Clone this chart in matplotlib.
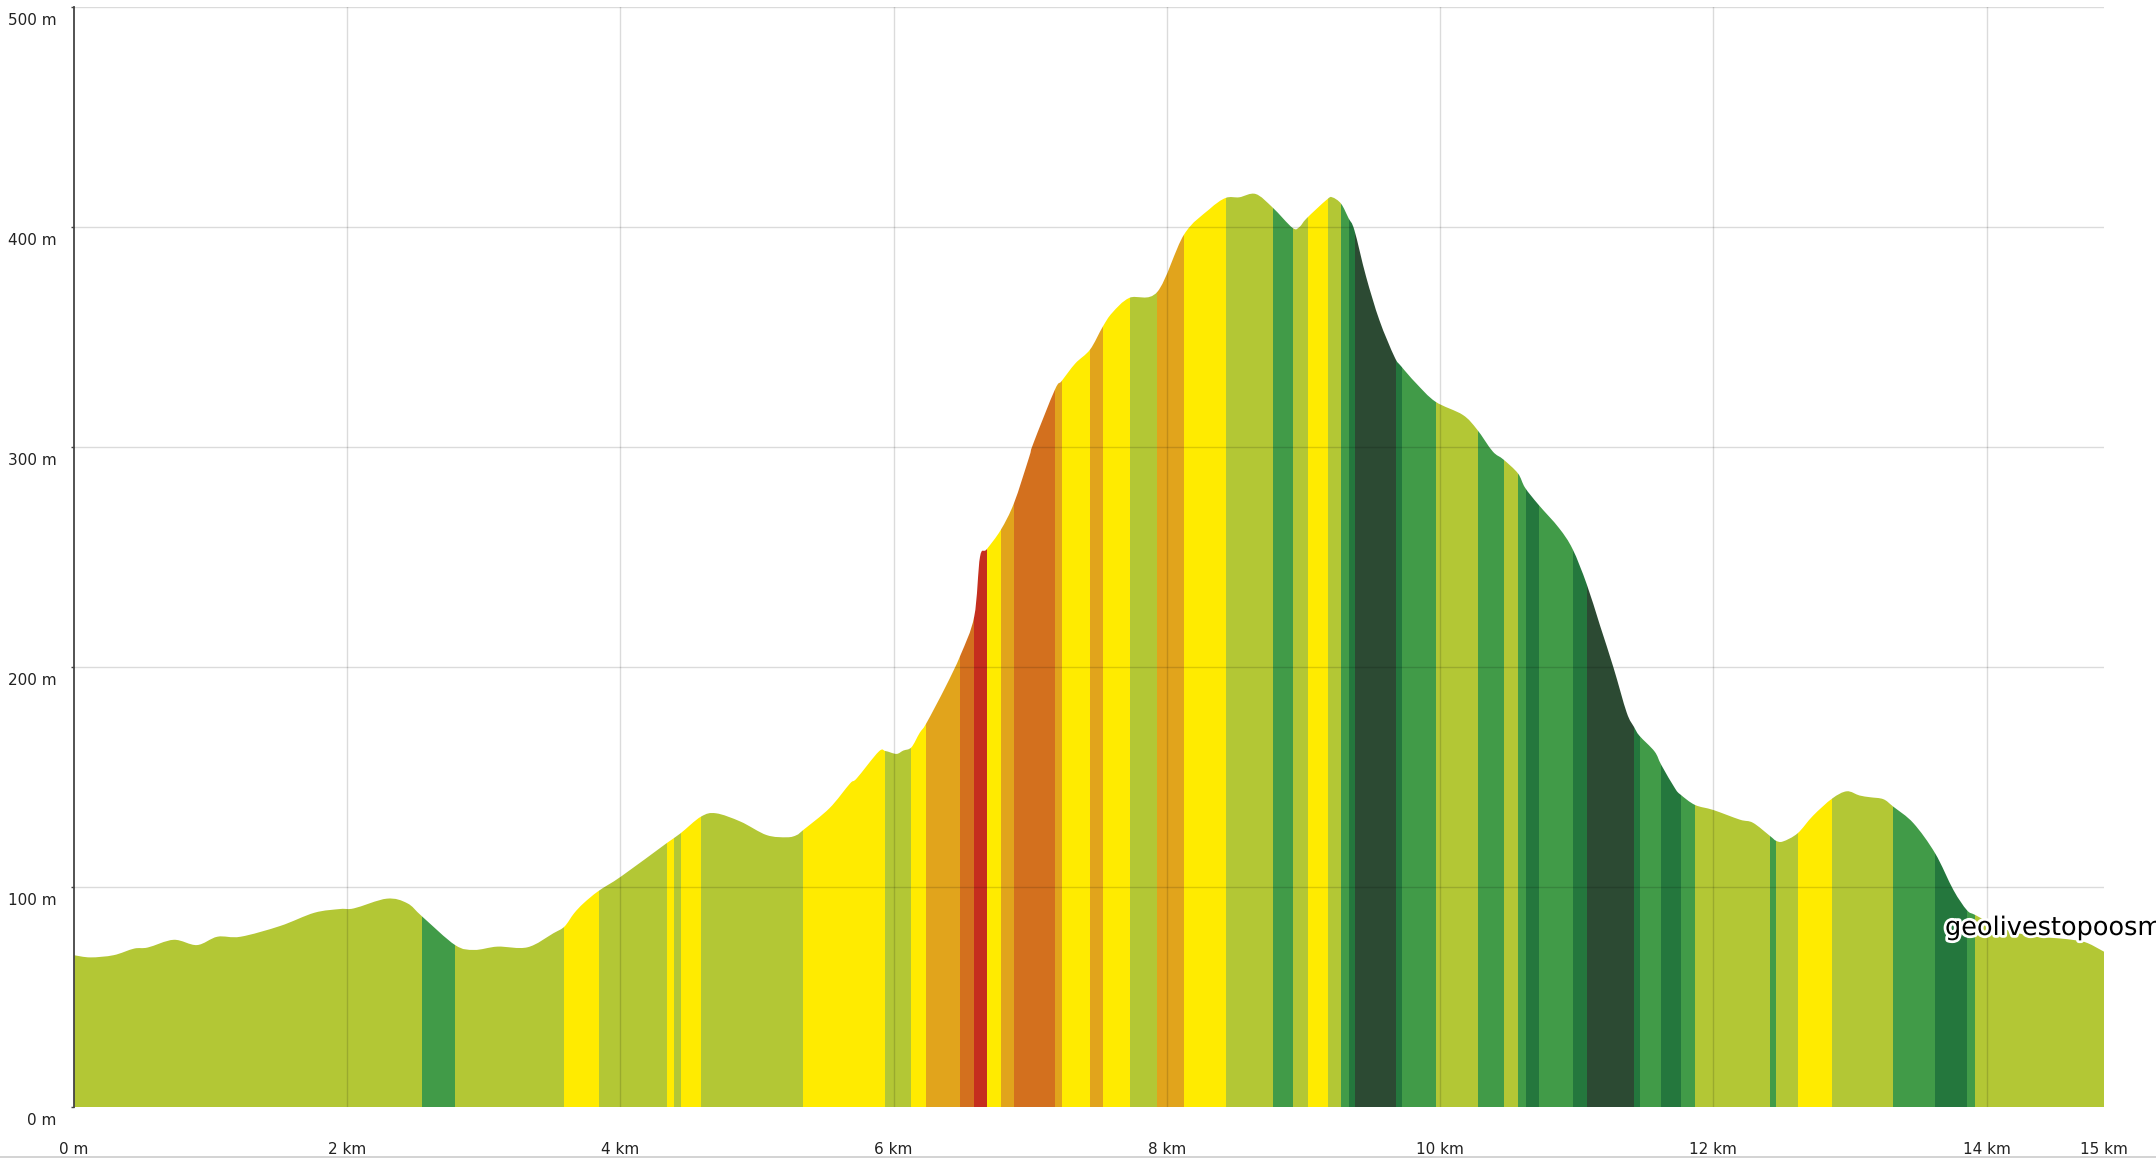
import numpy as np
import matplotlib
matplotlib.use("Agg")
import matplotlib.pyplot as plt
from matplotlib.patches import PathPatch
from matplotlib.path import Path
from matplotlib.lines import Line2D
from matplotlib.transforms import ScaledTranslation
import matplotlib.patheffects as pe

plt.rcParams.update({"font.family": "DejaVu Sans", "font.size": 11})

# elevation profile (distance km, elevation m)
dist_km = [0.00, 0.12, 0.29, 0.44, 0.54, 0.73, 0.90, 1.05, 1.22, 1.51, 1.76, 1.95,
           2.05, 2.29, 2.44, 2.55, 2.79, 2.93, 3.10, 3.32, 3.51, 3.59, 3.66, 3.73,
           3.84, 4.01, 4.34, 4.44, 4.59, 4.70, 4.88, 5.07, 5.22, 5.29, 5.34, 5.53,
           5.68, 5.73, 5.89, 5.94, 6.02, 6.07, 6.13, 6.19, 6.24, 6.38, 6.49, 6.59,
           6.632, 6.681, 6.784, 6.881, 6.99, 7.023, 7.18, 7.23, 7.33, 7.438, 7.53,
           7.60, 7.726, 7.93, 8.125, 8.31, 8.43, 8.53, 8.65, 8.775, 8.92, 8.97,
           9.024, 9.17, 9.21, 9.275, 9.33, 9.373, 9.458, 9.556, 9.666, 9.715,
           9.824, 9.966, 10.166, 10.27, 10.385, 10.464, 10.57, 10.622, 10.72,
           10.87, 10.97, 11.073, 11.17, 11.27, 11.366, 11.42, 11.46, 11.57, 11.62,
           11.72, 11.76, 11.866, 12.0, 12.195, 12.29, 12.415, 12.46, 12.51, 12.617,
           12.73, 12.87, 12.977, 13.07, 13.148, 13.245, 13.318, 13.465, 13.624,
           13.758, 13.856, 13.917, 14.05, 14.2, 14.37, 14.52, 14.65, 14.74, 14.86]
elev_m = [69, 68, 69, 72, 72.5, 76, 73.6, 77.4, 77.4, 82.3, 88.3, 90,
          90.3, 94.7, 92.6, 86.5, 73.6, 71.4, 72.9, 72.6, 79, 82, 88, 92.6,
          98.2, 105, 120, 124.4, 132, 133.5, 129.7, 123.6, 122.6, 123.6, 126, 135.8,
          147, 149.4, 161.5, 161.8, 160.5, 162, 163.5, 170, 174.5, 191, 205.5, 223,
          250, 253.5, 262.3, 274.5, 295, 301.7, 326, 330, 338, 344.3, 354.6,
          361, 367.8, 370.5, 396.5, 408, 413.2, 413.5, 415, 408.8, 399.6, 400,
          404, 412.4, 413.5, 410.6, 404, 398.5, 377.5, 357.6, 341, 336.7,
          329, 320.6, 314.6, 308, 298, 294.3, 288, 281.5, 273.8,
          263.2, 253.6, 237.7, 219, 199.6, 179.3, 172.7, 168.7, 161.6, 155.4,
          144.8, 142, 137.3, 135, 130.6, 129.2, 123.2, 121, 120.7, 124.4,
          132.4, 140.2, 143.5, 141.6, 140.8, 139.9, 136.5, 129, 115.3,
          98.6, 89.5, 87.3, 83, 79.5, 77.5, 76.7, 75.8, 74.5, 70.6]

# slope-class segments: start km of each segment, and class
seg_start_km = [0.0, 2.55, 2.79, 3.59, 3.84, 4.34, 4.39, 4.44, 4.59, 5.34, 5.937,
                6.13, 6.237, 6.486, 6.589, 6.681, 6.784, 6.881, 7.18, 7.23, 7.438,
                7.53, 7.73, 7.93, 8.128, 8.433, 8.78, 8.926, 9.03, 9.177, 9.275,
                9.334, 9.378, 9.675, 9.72, 9.97, 10.276, 10.47, 10.573, 10.63,
                10.727, 10.97, 11.073, 11.42, 11.46, 11.62, 11.76, 11.866, 12.415,
                12.46, 12.617, 12.87, 13.318, 13.624, 13.856, 13.917]
seg_class = ["flat", "down1", "flat", "up1", "flat", "up1", "flat", "up1", "flat", "up1", "flat",
             "up1", "up2", "up3", "up4", "up1", "up2", "up3", "up2", "up1", "up2",
             "up1", "flat", "up2", "up1", "flat", "down1", "flat", "up1", "flat", "down1",
             "down2", "down3", "down2", "down1", "flat", "down1", "flat", "down1", "down2",
             "down1", "down2", "down3", "down2", "down1", "down2", "down1", "flat", "down1",
             "flat", "up1", "flat", "down1", "down2", "down1", "flat"]
class_colors = {
    "down3": "#2c4a33", "down2": "#24773d", "down1": "#419b48", "flat": "#b3c735",
    "up1": "#ffeb00", "up2": "#e1a41c", "up3": "#d3701e", "up4": "#c52e1e",
}

y_ticks = [0, 100, 200, 300, 400, 500]
y_labels = ["0 m", "100 m", "200 m", "300 m", "400 m", "500 m"]
x_ticks = [0, 2, 4, 6, 8, 10, 12, 14, 14.86]
x_labels = ["0 m", "2 km", "4 km", "6 km", "8 km", "10 km", "12 km", "14 km", "15 km"]

W, H, DPI = 2156, 1168, 100
fig = plt.figure(figsize=(W / DPI, H / DPI), dpi=DPI)
ax = fig.add_axes([74 / W, 1 - 1107 / H, (2104 - 74) / W, (1107 - 7) / H])
x_end = dist_km[-1]
ax.set_xlim(0, x_end)
ax.set_ylim(0, 500)

# smooth outline through the profile points (Catmull-Rom as cubic Bezier)
pts = np.column_stack([dist_km, elev_m])
verts, codes = [tuple(pts[0])], [Path.MOVETO]
n = len(pts)
for i in range(n - 1):
    p0 = pts[max(i - 1, 0)]; p1 = pts[i]; p2 = pts[i + 1]; p3 = pts[min(i + 2, n - 1)]
    c1 = p1 + (p2 - p0) / 6.0
    c2 = p2 - (p3 - p1) / 6.0
    verts += [tuple(c1), tuple(c2), tuple(p2)]
    codes += [Path.CURVE4] * 3
verts += [(x_end, 0), (0, 0), (0, 0)]
codes += [Path.LINETO, Path.LINETO, Path.CLOSEPOLY]
outline = PathPatch(Path(verts, codes), transform=ax.transData)

edges = seg_start_km + [x_end]
for i, cls in enumerate(seg_class):
    band = ax.axvspan(edges[i], edges[i + 1], color=class_colors[cls], lw=0, zorder=1)
    band.set_clip_path(outline)

# grid drawn over the fill
for yt in y_ticks[1:]:
    ax.axhline(yt, color="black", alpha=0.14, lw=1.0, zorder=3)
for xt in x_ticks[1:-1]:
    ax.axvline(xt, color="black", alpha=0.14, lw=1.0, zorder=3)

for side in ["top", "right", "bottom"]:
    ax.spines[side].set_visible(False)
ax.spines["left"].set_color("#444444")
ax.spines["left"].set_linewidth(1.3)
ax.spines["left"].set_zorder(4)

ax.set_yticks(y_ticks)
ax.set_yticklabels(y_labels)
ax.set_xticks(x_ticks)
ax.set_xticklabels(x_labels)
ax.tick_params(axis="y", length=2.5, width=1, color="#444444", pad=10, labelcolor="#222222")
ax.tick_params(axis="x", length=0, pad=25, labelcolor="#222222")
shift = ScaledTranslation(0, -12 / DPI, fig.dpi_scale_trans)
for lbl in ax.get_yticklabels():
    lbl.set_transform(lbl.get_transform() + shift)

# bottom border of the chart container
fig.add_artist(Line2D([0, 1], [1 - 1157 / H, 1 - 1157 / H], transform=fig.transFigure,
                      color="#c8c8c8", lw=1.1))

fig.text(1945 / W, 1 - 935 / H, "geolivestopoosm", fontsize=18.4, color="black",
         va="baseline", ha="left",
         path_effects=[pe.withStroke(linewidth=4, foreground="white")])

fig.savefig("out.png", dpi=DPI)
